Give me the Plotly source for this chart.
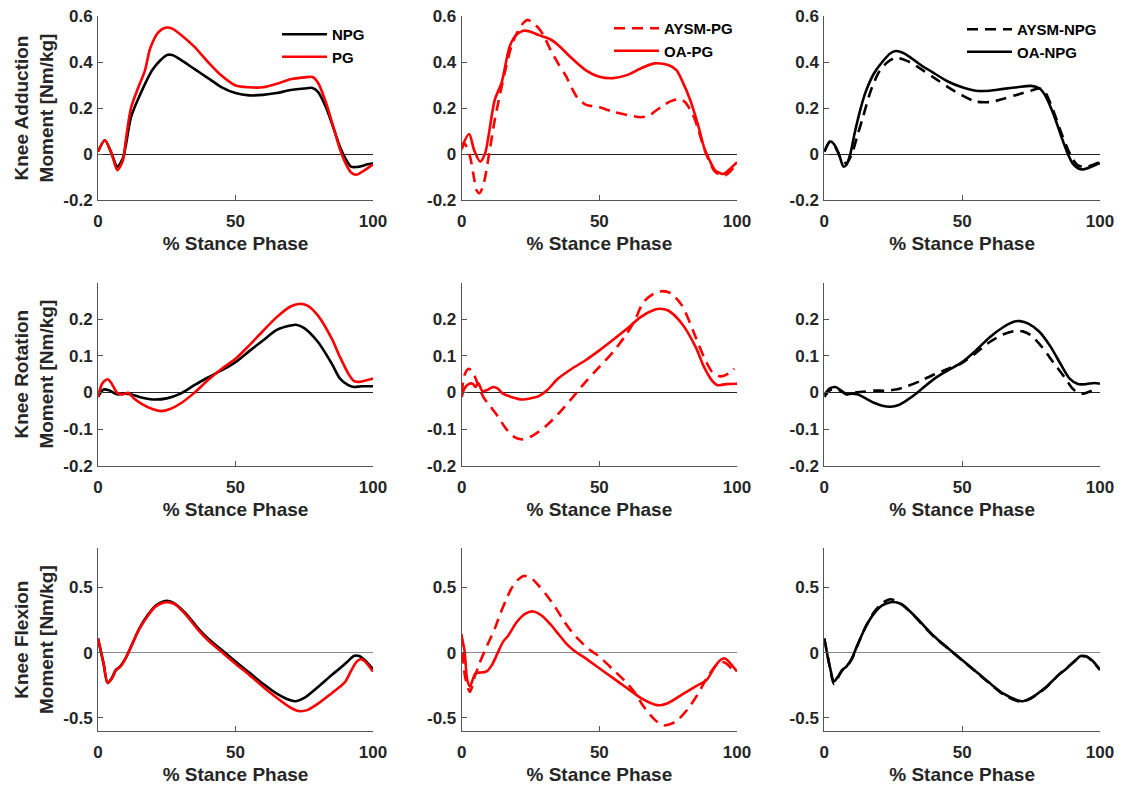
import plotly.graph_objects as go

# ---------------- DATA ----------------
# Row 1: Knee Adduction Moment
add_x_npg = [0, 2.5, 5, 7, 9, 10, 12, 15, 20, 25, 27, 30, 35, 40, 45, 50, 55, 60, 65, 70, 75, 78, 80, 83, 86, 88, 90, 92, 95, 98, 100]
add_npg = [0.01, 0.06, 0.0, -0.055, -0.02, 0.03, 0.16, 0.25, 0.37, 0.43, 0.43, 0.41, 0.37, 0.33, 0.29, 0.265, 0.255, 0.257, 0.265, 0.278, 0.285, 0.287, 0.27, 0.2, 0.1, 0.03, -0.02, -0.055, -0.055, -0.045, -0.04]
add_x_pg = [0, 2.5, 5, 7, 9, 10, 12, 15, 17, 19, 22, 25, 27, 30, 35, 40, 45, 50, 55, 60, 65, 70, 75, 78, 80, 83, 86, 88, 90, 92, 94, 97, 100]
add_pg = [0.01, 0.06, 0.0, -0.07, -0.03, 0.05, 0.2, 0.3, 0.36, 0.46, 0.53, 0.55, 0.545, 0.52, 0.467, 0.4, 0.34, 0.298, 0.29, 0.29, 0.305, 0.325, 0.333, 0.335, 0.31, 0.22, 0.1, 0.02, -0.04, -0.08, -0.09, -0.07, -0.045]

add_x_aysm_pg = [0, 1, 3, 4.2, 5.5, 6.5, 8, 10, 12, 14, 16, 18, 20, 22.5, 24, 26, 28, 30, 32, 35, 38, 40, 42, 45, 50, 55, 60, 65, 68, 70, 73, 76, 79, 81, 84, 86, 88, 90, 92, 94, 96, 98, 100]
add_aysm_pg = [0.02, 0.046, -0.01, -0.085, -0.16, -0.17, -0.128, 0.003, 0.148, 0.264, 0.372, 0.467, 0.525, 0.571, 0.583, 0.568, 0.546, 0.51, 0.459, 0.394, 0.336, 0.286, 0.245, 0.215, 0.203, 0.184, 0.17, 0.16, 0.166, 0.184, 0.209, 0.23, 0.238, 0.227, 0.17, 0.104, 0.025, -0.033, -0.077, -0.091, -0.091, -0.07, -0.04]
add_x_oa_pg = [0, 2.7, 4.5, 6.7, 8.5, 9.7, 12, 14.5, 17.5, 20, 22.4, 25, 28, 32, 35, 40, 45, 50, 55, 60, 65, 70, 75, 78, 80, 83, 86, 88, 90, 92, 95, 97, 100]
add_oa_pg = [0.03, 0.087, 0.017, -0.033, 0.003, 0.075, 0.235, 0.31, 0.47, 0.52, 0.536, 0.532, 0.517, 0.5, 0.474, 0.416, 0.365, 0.336, 0.33, 0.343, 0.372, 0.394, 0.387, 0.365, 0.32, 0.235, 0.12, 0.03, -0.026, -0.07, -0.087, -0.07, -0.036]

add_x_aysm_npg = [0, 2, 4, 6, 8, 10, 12, 14, 17, 20, 23, 26, 30, 35, 40, 45, 50, 55, 60, 65, 70, 75, 78, 80, 83, 86, 88, 90, 92, 95, 98, 100]
add_aysm_npg = [0.01, 0.05, 0.03, -0.02, -0.04, 0.0, 0.08, 0.16, 0.28, 0.36, 0.4, 0.418, 0.405, 0.37, 0.33, 0.29, 0.255, 0.228, 0.226, 0.24, 0.258, 0.275, 0.285, 0.27, 0.19, 0.09, 0.03, -0.02, -0.05, -0.055, -0.045, -0.035]
add_x_oa_npg = [0, 2, 3, 5, 7, 8, 9.5, 11, 13, 15, 18, 21, 24, 26, 28, 30, 35, 40, 45, 50, 55, 60, 65, 70, 75, 78, 80, 83, 86, 88, 90, 92, 94, 97, 100]
add_oa_npg = [0.01, 0.054, 0.05, 0.01, -0.055, -0.048, 0.003, 0.09, 0.19, 0.27, 0.35, 0.4, 0.438, 0.448, 0.442, 0.43, 0.387, 0.35, 0.314, 0.29, 0.275, 0.275, 0.283, 0.29, 0.296, 0.286, 0.257, 0.177, 0.075, 0.01, -0.04, -0.062, -0.067, -0.055, -0.04]

# Row 2: Knee Rotation Moment
rot_x_npg = [0, 2, 4, 7, 10, 12, 15, 20, 25, 30, 35, 40, 45, 50, 55, 60, 65, 70, 72, 75, 80, 85, 88, 91, 93, 96, 100]
rot_npg = [-0.012, 0.008, 0.006, -0.005, -0.003, -0.005, -0.012, -0.019, -0.016, -0.003, 0.02, 0.041, 0.061, 0.083, 0.113, 0.142, 0.171, 0.183, 0.185, 0.176, 0.138, 0.079, 0.038, 0.02, 0.015, 0.017, 0.017]
rot_x_pg = [0, 1.5, 3.5, 5, 7, 9, 11, 13, 16, 20, 23, 26, 30, 35, 40, 45, 50, 55, 60, 65, 70, 73, 76, 80, 85, 88, 91, 93, 95, 98, 100]
rot_pg = [-0.012, 0.024, 0.036, 0.024, -0.001, -0.005, -0.001, -0.016, -0.032, -0.046, -0.051, -0.046, -0.03, -0.001, 0.034, 0.065, 0.092, 0.129, 0.168, 0.206, 0.235, 0.242, 0.238, 0.21, 0.147, 0.097, 0.052, 0.032, 0.029, 0.034, 0.038]

rot_x_aysm_pg = [0, 1, 2.5, 4, 6, 8, 10, 13, 16, 19, 22, 25, 28, 31, 35, 40, 45, 50, 55, 60, 63, 66, 70, 73, 76, 80, 85, 88, 91, 94, 97, 99]
rot_aysm_pg = [-0.003, 0.047, 0.065, 0.056, 0.02, -0.014, -0.034, -0.064, -0.098, -0.121, -0.128, -0.121, -0.107, -0.089, -0.059, -0.016, 0.029, 0.07, 0.111, 0.161, 0.199, 0.247, 0.271, 0.277, 0.271, 0.238, 0.151, 0.097, 0.056, 0.044, 0.052, 0.065]
rot_x_oa_pg = [0, 1, 2.5, 4, 5, 6, 7.5, 9, 11.5, 13, 15, 18, 22, 25, 28, 31, 35, 40, 45, 50, 55, 60, 65, 70, 72, 75, 80, 85, 88, 91, 93, 96, 100]
rot_oa_pg = [-0.012, 0.011, 0.023, 0.024, 0.015, 0.026, 0.004, 0.006, 0.015, 0.011, -0.003, -0.012, -0.019, -0.016, -0.01, 0.006, 0.038, 0.065, 0.088, 0.115, 0.144, 0.174, 0.206, 0.226, 0.229, 0.224, 0.188, 0.124, 0.07, 0.032, 0.02, 0.023, 0.024]

rot_x_aysm_npg = [0, 2, 4, 6, 8, 10, 14, 18, 22, 26, 30, 35, 40, 45, 50, 55, 60, 65, 69, 72, 75, 79, 83, 87, 90, 92, 94, 96, 97]
rot_aysm_npg = [-0.012, 0.006, 0.011, 0.004, -0.005, -0.001, 0.002, 0.005, 0.005, 0.008, 0.017, 0.032, 0.05, 0.065, 0.081, 0.108, 0.138, 0.159, 0.168, 0.167, 0.156, 0.124, 0.083, 0.043, 0.011, -0.001, -0.003, 0.002, 0.005]
rot_x_oa_npg = [0, 2, 4, 6, 8, 10, 12, 15, 18, 21, 24, 27, 30, 33, 36, 40, 45, 50, 55, 60, 65, 69, 71, 74, 78, 82, 86, 89, 92, 95, 98, 100]
rot_oa_npg = [-0.007, 0.011, 0.015, 0.006, -0.005, -0.003, -0.005, -0.016, -0.028, -0.036, -0.039, -0.034, -0.021, -0.005, 0.014, 0.038, 0.061, 0.083, 0.115, 0.151, 0.179, 0.194, 0.195, 0.188, 0.166, 0.126, 0.074, 0.038, 0.023, 0.023, 0.026, 0.024]

# Row 3: Knee Flexion Moment
flx_x_npg = [0, 2, 3.5, 5, 6.5, 8, 10, 12, 15, 18, 21, 24, 26, 28, 32, 36, 40, 45, 50, 55, 60, 65, 70, 72, 75, 80, 85, 88, 91, 93, 95, 97, 100]
flx_npg = [0.109, -0.081, -0.233, -0.195, -0.132, -0.106, -0.043, 0.046, 0.185, 0.286, 0.362, 0.395, 0.395, 0.375, 0.299, 0.197, 0.109, 0.02, -0.068, -0.152, -0.238, -0.314, -0.365, -0.372, -0.347, -0.263, -0.17, -0.119, -0.063, -0.025, -0.025, -0.056, -0.127]
flx_x_pg = [0, 2, 3.5, 5, 6.5, 8, 10, 12, 15, 18, 21, 24, 26, 28, 32, 36, 40, 45, 50, 55, 60, 65, 70, 73, 76, 80, 85, 88, 90, 92, 94, 95.5, 97, 100]
flx_pg = [0.11, -0.08, -0.23, -0.2, -0.135, -0.11, -0.045, 0.045, 0.18, 0.28, 0.355, 0.385, 0.385, 0.37, 0.29, 0.185, 0.095, 0.005, -0.085, -0.17, -0.26, -0.345, -0.42, -0.447, -0.44, -0.39, -0.31, -0.26, -0.22, -0.14, -0.07, -0.05, -0.065, -0.145]

flx_x_aysm_pg = [0, 1.2, 3, 4.8, 6.5, 8.5, 10, 12, 14, 16, 18, 20, 22.5, 25, 28, 31, 34, 37, 40, 43, 46, 48, 50, 55, 60, 63, 66, 70, 73, 75, 78, 82, 86, 89, 92, 94, 96, 98, 100]
flx_aysm_pg = [0.14, -0.18, -0.3, -0.18, -0.08, 0.02, 0.09, 0.184, 0.298, 0.4, 0.49, 0.55, 0.588, 0.576, 0.513, 0.437, 0.348, 0.247, 0.16, 0.09, 0.03, 0.0, -0.03, -0.13, -0.233, -0.309, -0.41, -0.511, -0.557, -0.552, -0.524, -0.435, -0.309, -0.195, -0.106, -0.068, -0.081, -0.119, -0.144]
flx_x_oa_pg = [0, 1, 2, 3, 4, 5, 7, 9, 11, 13, 15, 17, 20, 23, 26, 29, 32, 35, 38, 41, 45, 50, 55, 60, 65, 70, 72, 75, 80, 85, 89, 92, 94, 95.5, 97, 100]
flx_oa_pg = [0.12, 0.02, -0.207, -0.258, -0.207, -0.157, -0.152, -0.144, -0.093, -0.005, 0.083, 0.134, 0.235, 0.298, 0.316, 0.285, 0.222, 0.146, 0.07, 0.013, -0.043, -0.119, -0.195, -0.271, -0.347, -0.397, -0.403, -0.385, -0.322, -0.258, -0.208, -0.106, -0.056, -0.043, -0.068, -0.144]

flx_x_aysm_npg = [0, 2, 3.5, 5, 6.5, 8, 10, 12, 15, 18, 21, 24, 26, 28, 32, 36, 40, 45, 50, 55, 60, 65, 70, 72, 75, 80, 85, 88, 91, 93, 95, 97, 100]
flx_aysm_npg = [0.109, -0.11, -0.24, -0.19, -0.135, -0.11, -0.05, 0.055, 0.2, 0.31, 0.38, 0.41, 0.395, 0.372, 0.297, 0.205, 0.118, 0.03, -0.058, -0.147, -0.236, -0.322, -0.37, -0.375, -0.35, -0.275, -0.17, -0.115, -0.06, -0.03, -0.028, -0.06, -0.13]
flx_x_oa_npg = [0, 2, 3.5, 5, 6.5, 8, 10, 12, 15, 18, 21, 24, 26, 28, 32, 36, 40, 45, 50, 55, 60, 65, 70, 72, 75, 80, 85, 88, 91, 93, 95, 97, 100]
flx_oa_npg = [0.109, -0.106, -0.22, -0.182, -0.132, -0.106, -0.043, 0.058, 0.197, 0.299, 0.362, 0.387, 0.387, 0.37, 0.299, 0.21, 0.122, 0.033, -0.056, -0.144, -0.233, -0.314, -0.365, -0.372, -0.347, -0.271, -0.17, -0.119, -0.061, -0.025, -0.03, -0.056, -0.132]

row_titles = ["Knee Adduction<br>Moment [Nm/kg]", "Knee Rotation<br>Moment [Nm/kg]", "Knee Flexion<br>Moment [Nm/kg]"]
x_title = "% Stance Phase"
x_tickvals = [0, 50, 100]
x_ticktext = ["0", "50", "100"]
y_tickvals = [[-0.2, 0, 0.2, 0.4, 0.6], [-0.2, -0.1, 0, 0.1, 0.2], [-0.5, 0, 0.5]]
y_ticktext = [["-0.2", "0", "0.2", "0.4", "0.6"], ["-0.2", "-0.1", "0", "0.1", "0.2"], ["-0.5", "0", "0.5"]]
y_ranges = [[-0.2, 0.6], [-0.2, 0.3], [-0.6, 0.8]]

# ---------------- FIGURE ----------------
W, H = 1122, 788
RED = "#ff0000"
BLK = "#000000"
DASH = "11px,7px"
FONT = "Liberation Sans, Arial, Helvetica, sans-serif"

col_px = [(98, 373), (461.7, 737), (824.3, 1100)]
row_px = [(16, 200), (282.7, 465.7), (548.3, 731)]

# (row, col) -> list of (x, y, name, color, dash)
panels = {
    (0, 0): [(add_x_npg, add_npg, "NPG", BLK, "solid"), (add_x_pg, add_pg, "PG", RED, "solid")],
    (0, 1): [(add_x_aysm_pg, add_aysm_pg, "AYSM-PG", RED, DASH), (add_x_oa_pg, add_oa_pg, "OA-PG", RED, "solid")],
    (0, 2): [(add_x_aysm_npg, add_aysm_npg, "AYSM-NPG", BLK, DASH), (add_x_oa_npg, add_oa_npg, "OA-NPG", BLK, "solid")],
    (1, 0): [(rot_x_npg, rot_npg, "NPG", BLK, "solid"), (rot_x_pg, rot_pg, "PG", RED, "solid")],
    (1, 1): [(rot_x_aysm_pg, rot_aysm_pg, "AYSM-PG", RED, DASH), (rot_x_oa_pg, rot_oa_pg, "OA-PG", RED, "solid")],
    (1, 2): [(rot_x_aysm_npg, rot_aysm_npg, "AYSM-NPG", BLK, DASH), (rot_x_oa_npg, rot_oa_npg, "OA-NPG", BLK, "solid")],
    (2, 0): [(flx_x_npg, flx_npg, "NPG", BLK, "solid"), (flx_x_pg, flx_pg, "PG", RED, "solid")],
    (2, 1): [(flx_x_aysm_pg, flx_aysm_pg, "AYSM-PG", RED, DASH), (flx_x_oa_pg, flx_oa_pg, "OA-PG", RED, "solid")],
    (2, 2): [(flx_x_aysm_npg, flx_aysm_npg, "AYSM-NPG", BLK, DASH), (flx_x_oa_npg, flx_oa_npg, "OA-NPG", BLK, "solid")],
}

fig = go.Figure()
layout = dict(width=W, height=H, margin=dict(l=0, r=0, t=0, b=0),
              plot_bgcolor="white", paper_bgcolor="white",
              font=dict(family=FONT, color="#262626"))

legend_names = ["legend", "legend2", "legend3"]
legend_right = [370, 738, 1102]
legend_top = [18, 12, 13]

axline = "#555555"
for r in range(3):
    for c in range(3):
        idx = r * 3 + c + 1
        xa = "x" if idx == 1 else f"x{idx}"
        ya = "y" if idx == 1 else f"y{idx}"
        for (xs, ys, name, color, dash) in panels[(r, c)]:
            fig.add_trace(go.Scatter(
                x=xs, y=ys, mode="lines", name=name,
                line=dict(color=color, width=2.6, dash=dash, shape="spline", smoothing=0.8),
                xaxis=xa, yaxis=ya, showlegend=(r == 0), legend=legend_names[c],
                hoverinfo="skip"))
        x0, x1 = col_px[c]
        y0, y1 = row_px[r]
        layout[f"xaxis{'' if idx == 1 else idx}"] = dict(
            domain=[x0 / W, x1 / W], anchor=ya, range=[0, 100],
            tickvals=x_tickvals, ticktext=x_ticktext,
            showline=True, linecolor=axline, linewidth=1, ticks="inside", ticklen=5, tickcolor=axline,
            showgrid=False, zeroline=False, automargin=False, ticklabelstandoff=6,
            tickfont=dict(family=FONT, size=17, color="#262626", weight="bold"),
            title=dict(text=x_title, standoff=6, font=dict(family=FONT, size=19, color="#262626", weight="bold")))
        layout[f"yaxis{'' if idx == 1 else idx}"] = dict(
            domain=[1 - y1 / H, 1 - y0 / H], anchor=xa, range=y_ranges[r],
            tickvals=y_tickvals[r], ticktext=y_ticktext[r],
            showline=True, linecolor=axline, linewidth=1, ticks="inside", ticklen=5, tickcolor=axline,
            showgrid=False, zeroline=True, zerolinecolor=("#222222" if r < 2 else "#8a8a8a"), zerolinewidth=1,
            automargin=False, ticklabelstandoff=1,
            tickfont=dict(family=FONT, size=17, color="#262626", weight="bold"),
            title=dict(text=(row_titles[r] if c == 0 else ""), standoff=4,
                       font=dict(family=FONT, size=19, color="#262626", weight="bold")))

for c in range(3):
    layout[legend_names[c]] = dict(
        x=legend_right[c] / W, xanchor="right", y=1 - legend_top[c] / H, yanchor="top",
        bgcolor="rgba(0,0,0,0)", borderwidth=0, itemwidth=45, tracegroupgap=0,
        font=dict(family=FONT, size=15, color="#000000", weight="bold"))

fig.update_layout(**layout)
fig.write_html("out.html")
